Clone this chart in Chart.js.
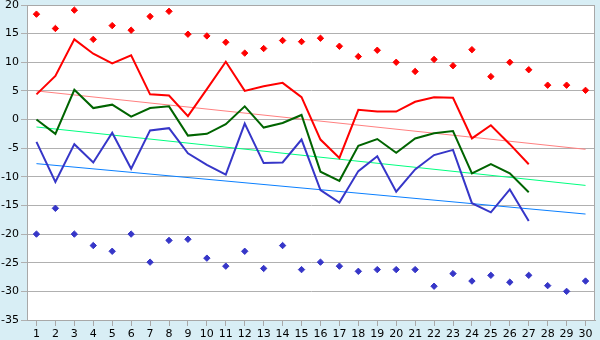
<!DOCTYPE html>
<html>
<head>
<meta charset="utf-8">
<script src="https://cdn.jsdelivr.net/npm/chart.js@4/dist/chart.umd.min.js"></script>
<style>
  html, body { margin: 0; padding: 0; background: #d8eef5; }
  #wrap { width: 600px; height: 340px; }
</style>
</head>
<body>
<div id="wrap"><canvas id="chart" width="600" height="340"></canvas></div>
<script>
// ── Data ─────────────────────────────────────────────────────────────────────

const days = ['1','2','3','4','5','6','7','8','9','10','11','12','13','14','15',
              '16','17','18','19','20','21','22','23','24','25','26','27','28','29','30'];

const redLine   = [4.4, 7.6, 14.0, 11.5, 9.8, 11.2, 4.4, 4.2, 0.6, 5.3, 10.1, 5.0, 5.8, 6.4, 3.9,
                   -3.5, -6.7, 1.7, 1.4, 1.4, 3.1, 3.9, 3.8, -3.3, -1.0, -4.3, -7.8];
const greenLine = [0.0, -2.5, 5.2, 2.0, 2.6, 0.5, 2.0, 2.3, -2.8, -2.5, -0.8, 2.3, -1.4, -0.6, 0.8,
                   -9.1, -10.7, -4.6, -3.4, -5.8, -3.3, -2.4, -2.0, -9.4, -7.8, -9.4, -12.7];
const blueLine  = [-3.9, -10.9, -4.3, -7.5, -2.3, -8.6, -1.9, -1.5, -5.9, -7.9, -9.6, -0.7, -7.6, -7.5, -3.5,
                   -12.3, -14.5, -9.0, -6.4, -12.6, -8.7, -6.2, -5.3, -14.6, -16.2, -12.2, -17.7];

const redPoints  = [18.4, 15.9, 19.1, 14.0, 16.4, 15.6, 18.0, 18.9, 14.9, 14.6, 13.5, 11.6, 12.4, 13.8, 13.6,
                    14.2, 12.8, 11.0, 12.1, 10.0, 8.4, 10.5, 9.4, 12.2, 7.5, 10.0, 8.7, 6.0, 6.0, 5.1];
const bluePoints = [-20.0, -15.5, -20.0, -22.0, -23.0, -20.0, -24.9, -21.1, -20.9, -24.2, -25.6, -23.0, -26.0, -22.0, -26.2,
                    -24.9, -25.6, -26.5, -26.2, -26.2, -26.2, -29.1, -26.9, -28.2, -27.2, -28.4, -27.2, -29.0, -30.0, -28.2];

// trend lines: value at first and last day
const redTrend   = [5.0, -5.2];
const greenTrend = [-1.3, -11.5];
const blueTrend  = [-7.7, -16.5];

const yMin = -35, yMax = 20, yStep = 5;

// ── Helpers ──────────────────────────────────────────────────────────────────

function trendData(ends) {
  return [{ x: days[0], y: ends[0] }, { x: days[days.length - 1], y: ends[1] }];
}

function lineSet(data, color, width, order) {
  return { data, borderColor: color, borderWidth: width, pointRadius: 0, tension: 0, fill: false, order };
}

function pointSet(data, color) {
  return {
    data, showLine: false, pointStyle: 'rectRot', pointRadius: 3.2,
    backgroundColor: color, borderColor: color, borderWidth: 1, order: 0
  };
}

// white plot area plus a frame round it
const plotFrame = {
  id: 'plotFrame',
  beforeDraw(chart) {
    const { ctx, chartArea: a } = chart;
    ctx.save();
    ctx.fillStyle = '#ffffff';
    ctx.fillRect(a.left, a.top, a.right - a.left, a.bottom - a.top);
    ctx.restore();
  },
  afterDraw(chart) {
    const { ctx, chartArea: a } = chart;
    ctx.save();
    ctx.strokeStyle = '#a8a8a8';
    ctx.lineWidth = 1;
    ctx.strokeRect(a.left + 0.5, a.top + 0.5, a.right - a.left - 1, a.bottom - a.top);
    ctx.restore();
  }
};

// ── Chart ────────────────────────────────────────────────────────────────────

const font = { family: '"DejaVu Sans", Verdana, sans-serif', size: 11 };

new Chart(document.getElementById('chart'), {
  type: 'line',
  data: {
    labels: days,
    datasets: [
      pointSet(redPoints, '#ff0000'),
      pointSet(bluePoints, '#3636c8'),
      lineSet(redLine, '#ff0000', 2, 1),
      lineSet(greenLine, '#006400', 2, 1),
      lineSet(blueLine, '#3636c8', 2, 1),
      lineSet(trendData(redTrend), '#ff8080', 1, 2),
      lineSet(trendData(greenTrend), '#00ff80', 1, 2),
      lineSet(trendData(blueTrend), '#0a80ff', 1, 2)
    ]
  },
  options: {
    responsive: false,
    animation: false,
    events: [],
    layout: { padding: { top: 5, right: 5, left: 0, bottom: 0 } },
    plugins: { legend: { display: false }, tooltip: { enabled: false } },
    scales: {
      x: {
        offset: true,
        grid: { offset: false, drawOnChartArea: false, color: '#a8a8a8', tickLength: 6 },
        border: { color: '#a8a8a8' },
        ticks: { color: '#000', font, padding: 2, maxRotation: 0, autoSkip: false },
        afterFit: s => { s.height = 20; s.paddingLeft = 0; s.paddingRight = 0; }
      },
      y: {
        min: yMin, max: yMax,
        grid: { color: '#b0b0b0', tickLength: 6 },
        border: { color: '#a8a8a8' },
        ticks: { stepSize: yStep, color: '#000', font, padding: 2 },
        afterFit: s => { s.width = 27; s.paddingTop = 0; s.paddingBottom = 0; }
      }
    }
  },
  plugins: [plotFrame]
});
</script>
</body>
</html>
